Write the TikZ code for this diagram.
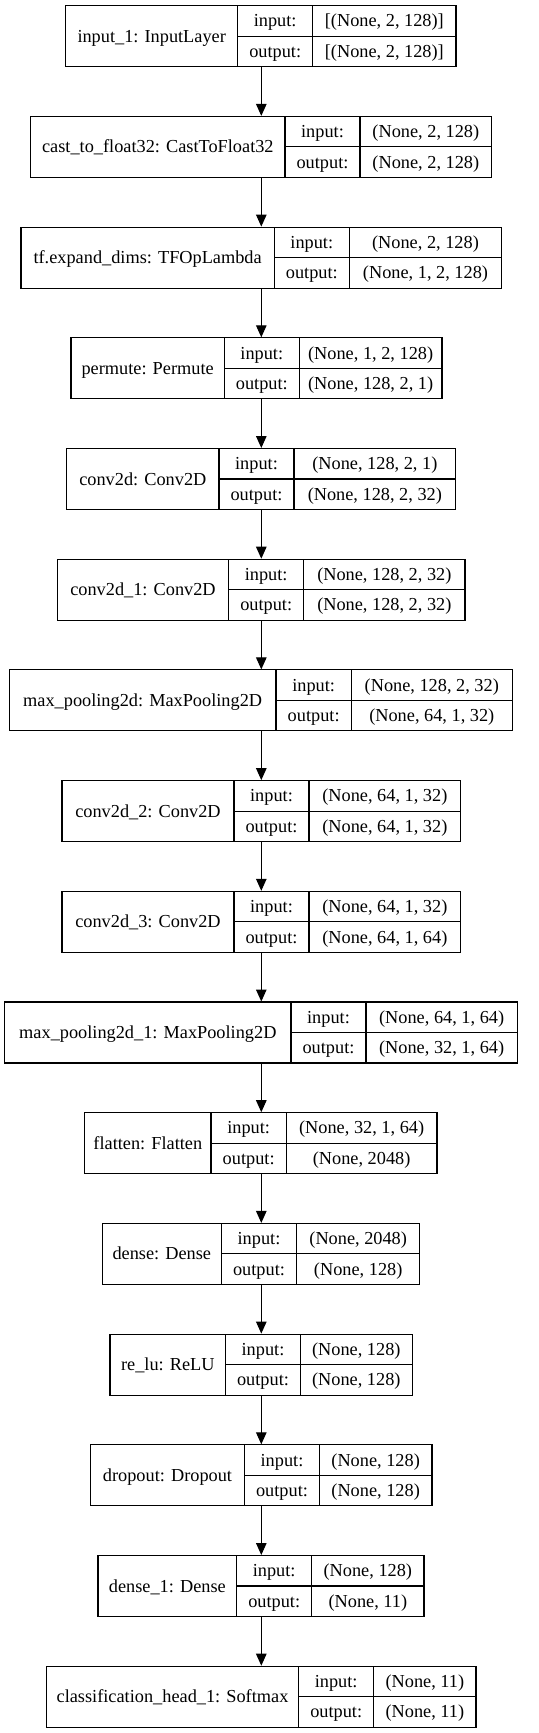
\documentclass[tikz,border=0pt]{standalone}
\usepackage{fontspec}
\setmainfont{Liberation Serif}
\usetikzlibrary{arrows.meta}
\newcommand\boxfont{\fontsize{18.3bp}{21bp}\selectfont}
\tikzset{
  boxframe/.style={draw=black, line width=1.1bp, inner sep=0pt, outer sep=0pt, anchor=north west},
  cellline/.style={draw=black, line width=1.1bp},
  txt/.style={inner sep=0pt, font=\boxfont, text height=13bp, text depth=1bp},
  arr/.style={draw=black, line width=1.1bp, -{Triangle[length=12bp,width=10.5bp]}, shorten >=0.5bp}
}
\newcommand\kerasbox[8]{%
  \pgfmathsetmacro\ty{5.7+110.7*(#1-1)}%
  \pgfmathsetmacro\tb{\ty+61}%
  \pgfmathsetmacro\tm{\ty+30.5}%
  \pgfmathsetmacro\bw{#5-#2}%
  \node[boxframe, minimum width=\bw bp, minimum height=61bp] (L#1) at (#2,\ty) {};
  \draw[cellline] (#3,\ty) -- (#3,\tb);
  \draw[cellline] (#4,\ty) -- (#4,\tb);
  \draw[cellline] (#3,\tm) -- (#5,\tm);
  \node[txt] (L#1name) at ({(#2+#3)/2},\tm) {#6};
  \node[txt] (L#1inl) at ({(#3+#4)/2},{\ty+15.25}) {input:};
  \node[txt] (L#1outl) at ({(#3+#4)/2},{\ty+45.75}) {output:};
  \node[txt] (L#1in) at ({(#4+#5)/2},{\ty+15.25}) {#7};
  \node[txt] (L#1out) at ({(#4+#5)/2},{\ty+45.75}) {#8};
}
\begin{document}
\begin{tikzpicture}[x=1bp,y=-1bp]
\useasboundingbox (0,0) rectangle (539,1733);
\fill[white] (0,0) rectangle (539,1733);
\coordinate (ax) at (261.3,0);
\kerasbox{1}{65.7}{237.7}{312.7}{456}{input\_1: InputLayer}{[(None, 2, 128)]}{[(None, 2, 128)]}
\kerasbox{2}{30.7}{285}{360}{491.7}{cast\_to\_float32: CastToFloat32}{(None, 2, 128)}{(None, 2, 128)}
\kerasbox{3}{21}{274.3}{349.3}{501.7}{tf.expand\_dims: TFOpLambda}{(None, 2, 128)}{(None, 1, 2, 128)}
\kerasbox{4}{71}{224.3}{299.3}{442}{permute: Permute}{(None, 1, 2, 128)}{(None, 128, 2, 1)}
\kerasbox{5}{66.7}{219}{294}{455.7}{conv2d: Conv2D}{(None, 128, 2, 1)}{(None, 128, 2, 32)}
\kerasbox{6}{57.3}{228.7}{303.7}{465}{conv2d\_1: Conv2D}{(None, 128, 2, 32)}{(None, 128, 2, 32)}
\kerasbox{7}{9.3}{276}{351.3}{512.3}{max\_pooling2d: MaxPooling2D}{(None, 128, 2, 32)}{(None, 64, 1, 32)}
\kerasbox{8}{62}{234}{309}{460.7}{conv2d\_2: Conv2D}{(None, 64, 1, 32)}{(None, 64, 1, 32)}
\kerasbox{9}{62}{234}{309}{460.7}{conv2d\_3: Conv2D}{(None, 64, 1, 32)}{(None, 64, 1, 64)}
\kerasbox{10}{4.7}{291}{366}{517.3}{max\_pooling2d\_1: MaxPooling2D}{(None, 64, 1, 64)}{(None, 32, 1, 64)}
\kerasbox{11}{84.7}{211}{286.3}{437}{flatten: Flatten}{(None, 32, 1, 64)}{(None, 2048)}
\kerasbox{12}{102.3}{221.3}{296.7}{419.7}{dense: Dense}{(None, 2048)}{(None, 128)}
\kerasbox{13}{110}{225.7}{300.3}{412.3}{re\_lu: ReLU}{(None, 128)}{(None, 128)}
\kerasbox{14}{90.3}{244.7}{319.3}{432}{dropout: Dropout}{(None, 128)}{(None, 128)}
\kerasbox{15}{98}{236.7}{311.7}{424}{dense\_1: Dense}{(None, 128)}{(None, 11)}
\kerasbox{16}{46.3}{298.7}{373.7}{476}{classification\_head\_1: Softmax}{(None, 11)}{(None, 11)}
\foreach \i [evaluate=\i as \j using int(\i+1)] in {1,...,15}{
  \draw[arr] (L\i.south -| ax) -- (L\j.north -| ax);
}
\end{tikzpicture}
\end{document}
